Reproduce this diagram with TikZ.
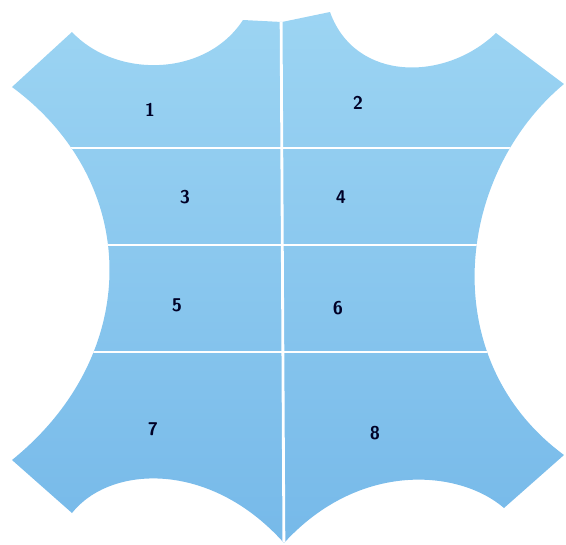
\documentclass[tikz,border=0pt]{standalone}
\definecolor{hidetop}{HTML}{9DD5F3}
\definecolor{hidebot}{HTML}{76B9E9}
\begin{document}
\begin{tikzpicture}[x=.02cm, y=-.02cm,
  cut/.style={white, line width=1.6pt},
  num/.style={font=\fontsize{10.5}{12}\selectfont\sffamily\bfseries, text=black!85!blue}]
\useasboundingbox (0,0) rectangle (566,545);

\begin{scope}
\clip (12,87) -- (72,32) .. controls (115,78) and (205,78) .. (243,20)
   -- (282,22) -- (330,12) .. controls (355,82) and (445,82) .. (496,33)
   -- (564,84) .. controls (455,175) and (435,360) .. (564,455)
   -- (504,508) .. controls (460,470) and (360,460) .. (284,543)
   .. controls (210,460) and (110,465) .. (72,513)
   -- (12,460) .. controls (142,355) and (142,183) .. (12,87) -- cycle;
\shade[top color=hidetop, bottom color=hidebot] (0,0) rectangle (566,545);
\foreach \y in {148, 245, 352}
{
   \draw[cut] (0,\y)--(566,\y);
}
\draw[cut] (281,0)--(284,560);
\end{scope}

\foreach \n/\x/\y in {1/150/110, 2/358/103, 3/185/197, 4/341/197, 5/177/305, 6/338/308, 7/153/429, 8/375/433}
{
   \node[num] (n\n) at (\x,\y) {\n};
}
\end{tikzpicture}
\end{document}
